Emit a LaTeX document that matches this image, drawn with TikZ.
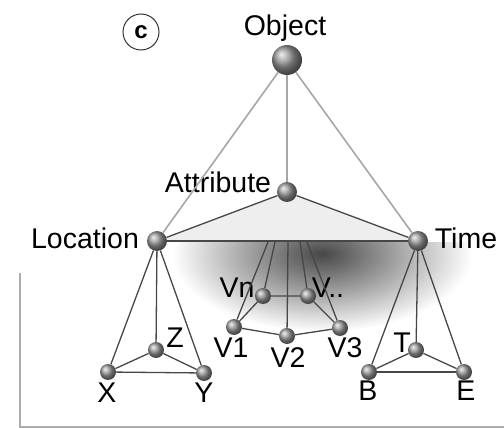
\documentclass[tikz,border=0pt]{standalone}
\usepackage{fontspec}
\setmainfont{Liberation Sans}

\begin{document}
\begin{tikzpicture}[
    % x=1pt, y=-1pt: coordinates read like pixels, y grows downwards
    x=1pt, y=-1pt,
    ball/.style={circle, shading=ball, ball color=gray!80, inner sep=0pt,
                 minimum size=16pt},
    bigball/.style={ball, minimum size=30pt},
    midball/.style={ball, minimum size=20pt},
    lbl/.style={font=\fontsize{28.5}{31}\selectfont, anchor=base, inner sep=0pt},
    edge/.style={draw=black!72, line width=1.3pt},
    rib/.style={draw=gray!70, line width=1.6pt},
    axis/.style={draw=gray!65, line width=2pt}
  ]
  \useasboundingbox (0,0) rectangle (504,428);

  % ── Shadow under the top face ─────────────────────────────────────────────
  \begin{scope}
    \clip (140,242) rectangle (490,345);
    \shade[inner color=black!72, outer color=white]
          (322,254) ellipse (150pt and 78pt);
  \end{scope}

  % ── Top face: Location - Attribute - Time ────────────────────────────────
  \coordinate (locP) at (157,241);
  \coordinate (attP) at (287,192);
  \coordinate (timP) at (418,241);
  \fill[gray!13] (locP) -- (attP) -- (timP) -- cycle;

  % ── Frame on the left and bottom ─────────────────────────────────────────
  \coordinate (ax0) at (20,273);
  \coordinate (ax1) at (20,427);
  \coordinate (ax2) at (504,427);
  \draw[axis] (ax0) -- (ax1) -- (ax2);

  % ── Balls ─────────────────────────────────────────────────────────────────
  \node[bigball] (obj) at (287,60)  {};
  \node[midball] (att) at (attP)    {};
  \node[midball] (loc) at (locP)    {};
  \node[midball] (tim) at (timP)    {};

  \node[ball] (x) at (108,372) {};
  \node[ball] (y) at (204,373) {};
  \node[ball] (z) at (156,350) {};

  \node[ball] (b) at (369,372) {};
  \node[ball] (e) at (464,372) {};
  \node[ball] (t) at (416,350) {};

  \node[ball] (v1) at (234,327) {};
  \node[ball] (v2) at (287,336) {};
  \node[ball] (v3) at (340,328) {};
  \node[ball] (vn) at (263,296) {};
  \node[ball] (vd) at (308,296) {};

  % ── Labels ────────────────────────────────────────────────────────────────
  \node[lbl] (objL) at (285,36)  {Object};
  \node[lbl] (attL) at (218,192) {Attribute};
  \node[lbl] (locL) at (85,248)  {Location};
  \node[lbl] (timL) at (466,248) {Time};

  \node[lbl] (xL) at (107,402) {X};
  \node[lbl] (yL) at (204,402) {Y};
  \node[lbl] (zL) at (175,347) {Z};
  \node[lbl] (bL) at (368,400) {B};
  \node[lbl] (eL) at (466,400) {E};
  \node[lbl] (tL) at (402,352) {T};

  \node[lbl] (v1L) at (231,357) {V1};
  \node[lbl] (v2L) at (288,367) {V2};
  \node[lbl] (v3L) at (345,357) {V3};
  \node[lbl] (vnL) at (237,297) {Vn};
  \node[lbl] (vdL) at (328,297) {V..};

  % panel mark
  \node[circle, draw=black!80, line width=1pt, minimum size=36pt, inner sep=0pt,
        font=\fontsize{24}{26}\selectfont\bfseries] (mark) at (141,32) {c};

  % ── Ribs from Object ──────────────────────────────────────────────────────
  \draw[rib] (obj) -- (loc);
  \draw[rib] (obj) -- (att);
  \draw[rib] (obj) -- (tim);

  % ── Top face edges ────────────────────────────────────────────────────────
  \draw[edge] (loc) -- (att) -- (tim);
  \draw[edge] (loc) -- (tim);

  % ── Location pyramid ──────────────────────────────────────────────────────
  \draw[edge] (loc) -- (x);
  \draw[edge] (loc) -- (z);
  \draw[edge] (loc) -- (y);
  \draw[edge] (x) -- (z) -- (y);
  \draw[edge] (x) -- (y);

  % ── Time pyramid ──────────────────────────────────────────────────────────
  \draw[edge] (tim) -- (b);
  \draw[edge] (tim) -- (t);
  \draw[edge] (tim) -- (e);
  \draw[edge] (b) -- (t) -- (e);
  \draw[edge] (b) -- (e);

  % ── Attribute values, hanging from the face ──────────────────────────────
  \coordinate (f1) at (268,242);
  \coordinate (f2) at (275,242);
  \coordinate (f3) at (288,242);
  \coordinate (f4) at (300,242);
  \coordinate (f5) at (307,242);
  \draw[edge] (f1) -- (v1);
  \draw[edge] (f2) -- (vn);
  \draw[edge] (f3) -- (v2);
  \draw[edge] (f4) -- (vd);
  \draw[edge] (f5) -- (v3);
  \draw[edge] (v1) -- (vn) -- (vd) -- (v3) -- (v2) -- (v1);

\end{tikzpicture}
\end{document}
